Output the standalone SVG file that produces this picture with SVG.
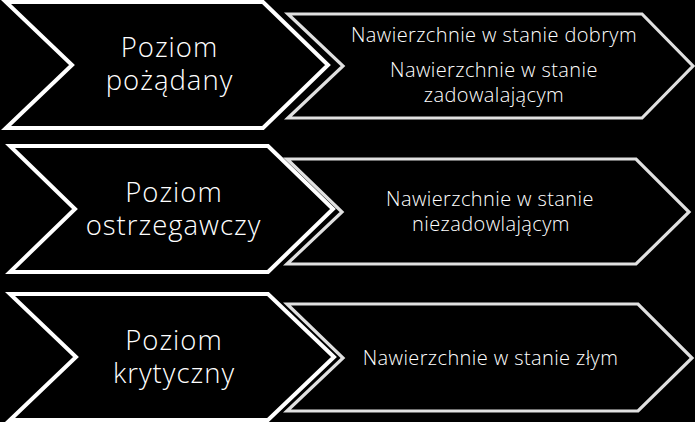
<svg xmlns="http://www.w3.org/2000/svg" width="695" height="422" viewBox="0 0 695 422">
<style>
.bg{fill:#000}
.lc{fill:#000;stroke:#fff;stroke-width:4;stroke-linejoin:miter}
.rc{fill:#000;stroke:#e0e0e0;stroke-width:3.2;stroke-linejoin:miter}
.lt{font-family:"Open Sans","Noto Sans",sans-serif;font-weight:300;font-size:27.5px;letter-spacing:1px;fill:#fff;text-anchor:middle}
.rt{font-family:"Open Sans","Noto Sans",sans-serif;font-weight:300;font-size:20px;letter-spacing:0.4px;fill:#fff;text-anchor:middle}
</style>
<rect class="bg" x="0" y="0" width="695" height="422"/>
<g id="row1-right">
<polygon class="rc" points="288,14 642,14 693,66 642,118 288,118 343,66"/>
<text class="rt" x="494" y="42">Nawierzchnie w stanie dobrym</text>
<text class="rt" x="494" y="77">Nawierzchnie w stanie</text>
<text class="rt" x="494" y="102">zadowalającym</text>
</g>
<g id="row1-left">
<polygon class="lc" points="6,2 263,2 328,65 263,128 6,128 72,65"/>
<text class="lt" x="169.5" y="57">Poziom</text>
<text class="lt" x="169.5" y="90">pożądany</text>
</g>
<g id="row2-right">
<polygon class="rc" points="287,159 636,159 689,212 636,264 287,264 342,212"/>
<text class="rt" x="490" y="206">Nawierzchnie w stanie</text>
<text class="rt" x="491" y="231">niezadowlającym</text>
</g>
<g id="row2-left">
<polygon class="lc" points="10,146 268,146 333,209 268,272 10,272 75,209"/>
<text class="lt" x="174" y="202">Poziom</text>
<text class="lt" x="173.5" y="235">ostrzegawczy</text>
</g>
<g id="row3-right">
<polygon class="rc" points="287,304 638,304 692,358 638,411 287,411 343,358"/>
<text class="rt" x="490.5" y="365">Nawierzchnie w stanie złym</text>
</g>
<g id="row3-left">
<polygon class="lc" points="10,294 268,294 334,357 268,420 10,420 76,357"/>
<text class="lt" x="174" y="350">Poziom</text>
<text class="lt" x="174" y="383">krytyczny</text>
</g>
<g id="connectors"></g>
</svg>
